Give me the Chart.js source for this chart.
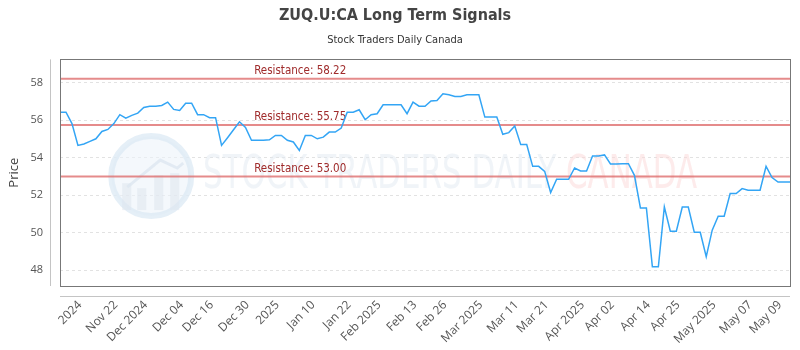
<!DOCTYPE html>
<html>
<head>
<meta charset="utf-8">
<title>ZUQ.U:CA Long Term Signals</title>
<script src="https://cdn.jsdelivr.net/npm/chart.js@4.4.1/dist/chart.umd.min.js"></script>
<style>
html, body { margin: 0; padding: 0; background: #fff; }
#wrap { width: 800px; height: 350px; }
</style>
</head>
<body>
<div id="wrap"><canvas id="chart"></canvas></div>
<script>
// closing prices, one per trading day
var prices = [
    56.43, 56.43, 55.82, 54.66, 54.73, 54.87, 55.01, 55.40, 55.51, 55.82,
    56.30, 56.11, 56.26, 56.38, 56.68, 56.75, 56.75, 56.79, 56.97, 56.58,
    56.52, 56.91, 56.91, 56.30, 56.30, 56.14, 56.14, 54.66, 55.07, 55.49,
    55.92, 55.62, 54.93, 54.93, 54.93, 54.96, 55.19, 55.19, 54.93, 54.84,
    54.39, 55.19, 55.19, 55.01, 55.10, 55.37, 55.37, 55.58, 56.43, 56.43,
    56.56, 56.03, 56.30, 56.35, 56.83, 56.83, 56.83, 56.83, 56.35, 56.97,
    56.75, 56.75, 57.03, 57.06, 57.41, 57.36, 57.27, 57.27, 57.36, 57.36,
    57.36, 56.17, 56.17, 56.17, 55.25, 55.34, 55.69, 54.70, 54.70, 53.54,
    53.54, 53.27, 52.14, 52.85, 52.85, 52.85, 53.45, 53.29, 53.29, 54.09,
    54.09, 54.15, 53.67, 53.67, 53.68, 53.68, 53.06, 51.32, 51.32, 48.18,
    48.18, 51.37, 50.08, 50.08, 51.37, 51.37, 50.02, 50.02, 48.71, 50.13,
    50.88, 50.88, 52.09, 52.09, 52.35, 52.26, 52.26, 52.26, 53.54, 52.94,
    52.70, 52.70, 52.70
];

// x axis labels and the data index each one sits on
var tickLabels = ['2024', 'Nov 22', 'Dec 2024', 'Dec 04', 'Dec 16', 'Dec 30', '2025', 'Jan 10',
    'Jan 22', 'Feb 2025', 'Feb 13', 'Feb 26', 'Mar 2025', 'Mar 11', 'Mar 21', 'Apr 2025',
    'Apr 02', 'Apr 14', 'Apr 25', 'May 2025', 'May 07', 'May 09'];
var tickIdx = [4, 10, 15, 21, 26, 32, 37, 43, 49, 54, 60, 65, 71, 77, 82, 88, 93, 99, 104, 110, 116, 121];

var yTicks = [48, 50, 52, 54, 56, 58];
var resistance = [58.22, 55.75, 53.00];

var labels = prices.map(function (p, i) {
    var k = tickIdx.indexOf(i);
    return k >= 0 ? tickLabels[k] : '';
});

var condensed = '"DejaVu Sans Condensed", "Liberation Sans Narrow", "Roboto", sans-serif';

// watermark, resistance lines and the frame round the plot
var decor = {
    id: 'decor',
    beforeDatasetsDraw: function (chart) {
        var ctx = chart.ctx, a = chart.chartArea, y = chart.scales.y;
        var w = a.right - a.left, h = a.bottom - a.top;
        ctx.save();

        // logo
        var cx = a.left + 0.125 * w, cy = a.top + 0.515 * h, r = 40;
        ctx.beginPath();
        ctx.arc(cx, cy, r, 0, Math.PI * 2);
        ctx.fillStyle = 'rgba(236, 244, 250, 0.6)';
        ctx.fill();
        ctx.lineWidth = 6;
        ctx.strokeStyle = 'rgba(222, 235, 245, 0.8)';
        ctx.stroke();
        ctx.fillStyle = 'rgba(222, 230, 238, 0.55)';
        [[-29, 7, 27], [-14, 12, 22], [3, -1, 35], [19, -3, 37]].forEach(function (b) {
            ctx.fillRect(cx + b[0], cy + b[1], 9, b[2]);
        });
        ctx.beginPath();
        ctx.moveTo(cx - 24, cy + 11);
        ctx.lineTo(cx + 9, cy - 16);
        ctx.lineTo(cx + 26, cy - 8);
        ctx.lineTo(cx + 32, cy - 13);
        ctx.lineWidth = 3;
        ctx.strokeStyle = 'rgba(220, 230, 240, 0.7)';
        ctx.stroke();

        // watermark text
        var t1 = 'STOCK TRADERS DAILY ', t2 = 'CANADA';
        ctx.font = '46px ' + condensed;
        ctx.textBaseline = 'middle';
        ctx.textAlign = 'left';
        var full = ctx.measureText(t1 + t2).width;
        var sx = 494 / full;
        ctx.translate(a.left + 0.196 * w, cy);
        ctx.scale(sx, 1);
        ctx.fillStyle = 'rgba(225, 234, 242, 0.5)';
        ctx.fillText(t1, 0, 0);
        ctx.fillStyle = 'rgba(252, 215, 215, 0.5)';
        ctx.fillText(t2, ctx.measureText(t1).width, 0);
        ctx.setTransform(1, 0, 0, 1, 0, 0);

        // resistance levels
        resistance.forEach(function (v) {
            var py = y.getPixelForValue(v);
            ctx.beginPath();
            ctx.moveTo(a.left, py);
            ctx.lineTo(a.right, py);
            ctx.lineWidth = 2;
            ctx.strokeStyle = 'rgba(222, 110, 110, 0.8)';
            ctx.stroke();
            ctx.font = '11.5px ' + condensed;
            ctx.fillStyle = '#a02c2c';
            ctx.textBaseline = 'bottom';
            ctx.fillText('Resistance: ' + v.toFixed(2), a.left + 0.266 * w, py - 2);
        });
        ctx.restore();
    },
    afterDraw: function (chart) {
        var ctx = chart.ctx, a = chart.chartArea;
        ctx.save();
        ctx.lineWidth = 1;
        ctx.strokeStyle = '#777';
        ctx.strokeRect(Math.round(a.left) + 0.5, Math.round(a.top) + 0.5,
            Math.round(a.right - a.left), Math.round(a.bottom - a.top));
        ctx.strokeStyle = '#c4c4c4';
        ctx.beginPath();
        ctx.moveTo(Math.round(a.left) - 9.5, a.top);
        ctx.lineTo(Math.round(a.left) - 9.5, a.bottom);
        ctx.moveTo(a.left, Math.round(a.bottom) + 10.5);
        ctx.lineTo(a.right, Math.round(a.bottom) + 10.5);
        ctx.stroke();
        ctx.restore();
    }
};

new Chart(document.getElementById('chart'), {
    type: 'line',
    data: {
        labels: labels,
        datasets: [{
            label: 'ZUQ.U:CA',
            data: prices,
            borderColor: 'rgb(51, 165, 245)',
            borderWidth: 1.5,
            pointRadius: 0,
            tension: 0,
            fill: false
        }]
    },
    options: {
        responsive: true,
        maintainAspectRatio: false,
        animation: false,
        layout: { padding: { left: 0, right: 10, top: 0, bottom: 0 } },
        plugins: {
            legend: { display: false },
            tooltip: { enabled: false },
            title: {
                display: true,
                text: 'ZUQ.U:CA Long Term Signals',
                color: '#444',
                font: { family: condensed, size: 16, weight: 'bold' },
                padding: { top: 6, bottom: 4 }
            },
            subtitle: {
                display: true,
                text: 'Stock Traders Daily Canada',
                color: '#333',
                font: { family: condensed, size: 11 },
                padding: { top: 4, bottom: 13 }
            }
        },
        scales: {
            x: {
                grid: { display: false },
                border: { display: false },
                afterBuildTicks: function (scale) {
                    scale.ticks = tickIdx.map(function (i) { return { value: i }; });
                },
                afterFit: function (scale) { scale.height = 64; },
                ticks: {
                    autoSkip: false,
                    maxRotation: 45,
                    minRotation: 45,
                    padding: 4,
                    labelOffset: -4,
                    color: '#555',
                    font: { family: '"Open Sans", sans-serif', size: 12 }
                }
            },
            y: {
                min: 47.15,
                max: 59.25,
                afterBuildTicks: function (scale) {
                    scale.ticks = yTicks.map(function (v) { return { value: v }; });
                },
                afterFit: function (scale) { scale.width = 60; },
                border: { display: false, dash: [3, 3] },
                grid: {
                    color: '#e2e2e2',
                    drawTicks: false
                },
                ticks: {
                    padding: 17,
                    color: '#555',
                    font: { family: '"Open Sans", sans-serif', size: 11 }
                },
                title: {
                    display: true,
                    text: 'Price',
                    color: '#444',
                    font: { family: '"Open Sans", sans-serif', size: 13 },
                    padding: { top: 6, bottom: 0 }
                }
            }
        }
    },
    plugins: [decor]
});
</script>
</body>
</html>
